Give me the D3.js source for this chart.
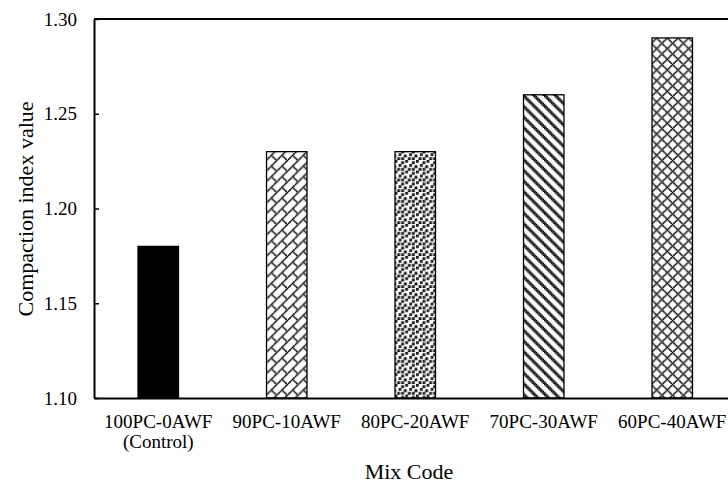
<!DOCTYPE html>
<html><head><meta charset="utf-8">
<script src="https://cdn.jsdelivr.net/npm/d3@7"></script>
<style>html,body{margin:0;padding:0;background:#fff;}svg{display:block;}</style>
</head><body>
<svg id="c" width="728" height="484"></svg>
<script>
const categories = ["100PC-0AWF", "90PC-10AWF", "80PC-20AWF", "70PC-30AWF", "60PC-40AWF"];
const subLabels = ["(Control)", "", "", "", ""];
const values = [1.18, 1.23, 1.23, 1.26, 1.29];
const yTicks = [1.10, 1.15, 1.20, 1.25, 1.30];
const fills = ["solid", "diagBrick", "lgConfetti", "wdDnDiag", "outlinedDiamond"];
const yTitle = "Compaction index value";
const xTitle = "Mix Code";

(function(){
const svg = d3.select("#c");
const font = "'Liberation Serif','Times New Roman',serif";
const pl = 94, pr = 736.5, pt = 19, pb = 398;

function bits(fn){const a=[];for(let yy=0;yy<8;yy++)for(let xx=0;xx<8;xx++)if(fn(xx,yy))a.push([xx,yy]);return a;}
const mod=(a,n)=>((a%n)+n)%n;
const bitmaps = {
  diagBrick: bits((a,b)=> mod(a+b,8)===7 || ((a===4&&b===5)||(a===5&&b===6)||(a===6&&b===7))),
  lgConfetti: (()=>{const rows=["11000000","11000110","00000110","00011000","10011001","10000001","00110110","00110110"];
     return bits((a,b)=>rows[b][a]==="1");})(),
  wdDnDiag: bits((a,b)=> [0,1,2].includes(mod(a-b,8))),
  outlinedDiamond: bits((a,b)=> a===b || a===mod(8-b,8))
};
const pxSize = {diagBrick:1.25, lgConfetti:1.1, wdDnDiag:1.05, outlinedDiamond:1.25};
const defs = svg.append("defs");
const sc = 4/3;
Object.entries(bitmaps).forEach(([name, px])=>{
  const s = pxSize[name];
  const p = defs.append("pattern").attr("id","p-"+name)
    .attr("patternUnits","userSpaceOnUse").attr("width",8).attr("height",8)
    .attr("patternTransform",`scale(${sc})`);
  p.append("rect").attr("width",8).attr("height",8).attr("fill","#fff");
  const cells = [];
  px.forEach(d=>{ for (const dx of [-8,0,8]) for (const dy of [-8,0,8]) cells.push([d[0]+dx,d[1]+dy]); });
  p.selectAll("rect.px").data(cells).join("rect").attr("class","px")
    .attr("x",d=>d[0]-(s-1)/2).attr("y",d=>d[1]-(s-1)/2).attr("width",s).attr("height",s).attr("fill","#000");
});

const x = d3.scaleBand().domain(categories).range([pl, pr]).paddingInner(0.685).paddingOuter(0.3425);
const y = d3.scaleLinear().domain([1.10, 1.30]).range([pb, pt]);

svg.append("line").attr("x1",pl).attr("x2",pr).attr("y1",y(1.30)).attr("y2",y(1.30))
  .attr("stroke","#000").attr("stroke-width",2);

svg.selectAll("rect.bar").data(categories).join("rect").attr("class","bar")
  .attr("x",d=>x(d)).attr("width",x.bandwidth())
  .attr("y",(d,i)=>y(values[i])).attr("height",(d,i)=>y(1.10)-y(values[i]))
  .attr("fill",(d,i)=>fills[i]==="solid"?"#000":`url(#p-${fills[i]})`)
  .attr("stroke","#000").attr("stroke-width",1.3);

const ya = svg.append("g").attr("transform",`translate(${pl},0)`)
  .call(d3.axisLeft(y).tickValues(yTicks).tickFormat(d3.format(".2f")).tickSizeInner(-5).tickSizeOuter(0).tickPadding(17));
ya.select(".domain").attr("stroke","#000").attr("stroke-width",2);
ya.selectAll(".tick line").attr("stroke","#000").attr("stroke-width",1.5);
ya.selectAll(".tick text").attr("font-family",font).attr("font-size",19).attr("fill","#000");

const xa = svg.append("g").attr("transform",`translate(0,${pb})`)
  .call(d3.axisBottom(x).tickSize(0).tickPadding(0));
xa.select(".domain").attr("stroke","#000").attr("stroke-width",2);
xa.selectAll(".tick text").remove();
xa.selectAll(".tick").each(function(d,i){
  const g = d3.select(this);
  g.append("text").attr("y",30).attr("text-anchor","middle").attr("font-family",font)
    .attr("font-size",19).attr("fill","#000").text(d);
  if (subLabels[i]) g.append("text").attr("y",50).attr("text-anchor","middle").attr("font-family",font)
    .attr("font-size",19).attr("fill","#000").text(subLabels[i]);
});

svg.append("text").attr("x",409).attr("y",479).attr("text-anchor","middle")
  .attr("font-family",font).attr("font-size",22).attr("fill","#000").text(xTitle);
svg.append("text").attr("transform","translate(33,209) rotate(-90)").attr("text-anchor","middle")
  .attr("font-family",font).attr("font-size",22).attr("fill","#000").text(yTitle);
})();
</script>
</body></html>
